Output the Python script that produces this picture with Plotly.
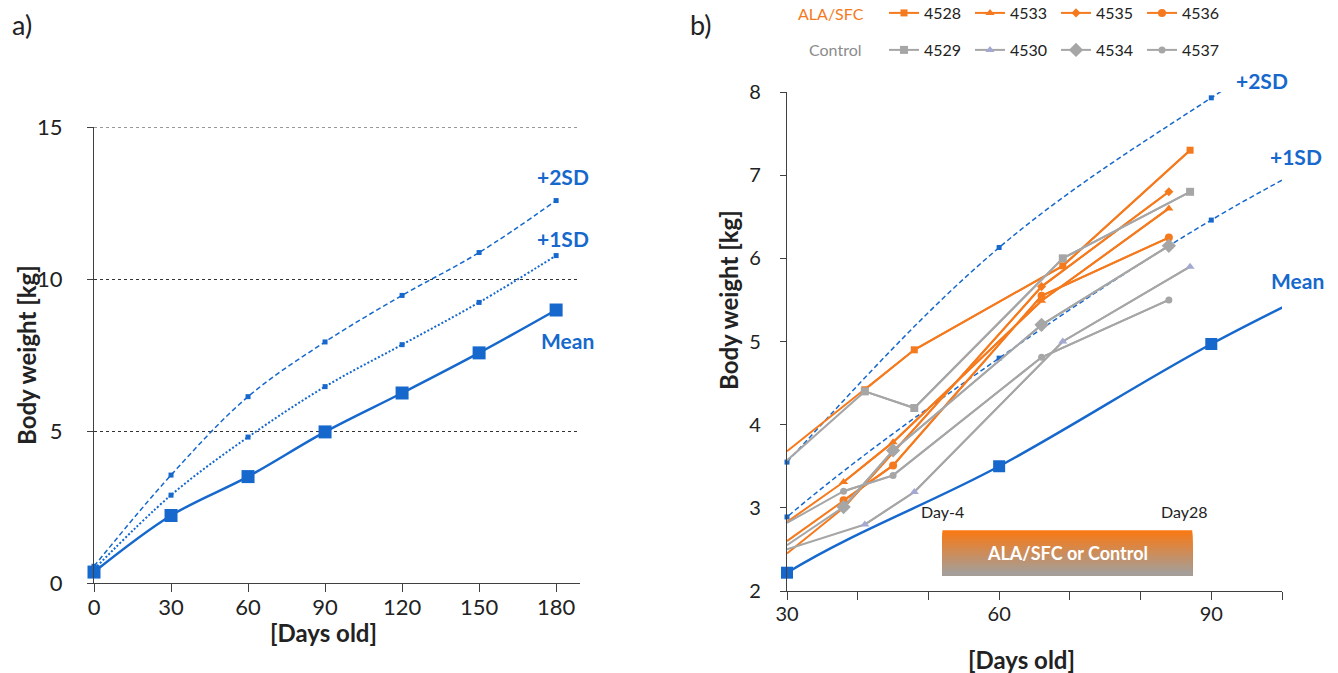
import plotly.graph_objects as go

W, H = 1338, 673
FONT = "Lato"
BLUE = "#1668CC"
ORANGE = "#F57A1E"
GRAY = "#A6A6A6"
LAV = "#A3A9D2"
AXIS = "#404040"
TXT = "#222222"

# ---- reference growth curves (days old -> kg) ----
ref_days = [0, 30, 60, 90, 120, 150, 180]
mean_kg = [0.36, 2.22, 3.50, 4.97, 6.25, 7.57, 8.98]
sd1_kg = [0.45, 2.89, 4.80, 6.46, 7.84, 9.23, 10.77]
sd2_kg = [0.55, 3.55, 6.13, 7.93, 9.46, 10.87, 12.58]

# ---- individual animals (panel b) ----
ala_ids = ["4528", "4533", "4535", "4536"]
ala_days = [[30, 41, 48, 69, 87], [30, 38, 45, 66, 84], [30, 38, 66, 84], [30, 38, 45, 66, 84]]
ala_kg = [[3.68, 4.42, 4.90, 5.91, 7.30], [2.83, 3.31, 3.79, 5.49, 6.60],
          [2.45, 3.00, 5.66, 6.80], [2.60, 3.09, 3.51, 5.55, 6.25]]
ctl_ids = ["4529", "4530", "4534", "4537"]
ctl_days = [[30, 41, 48, 69, 87], [30, 41, 48, 69, 87], [30, 38, 45, 66, 84], [30, 38, 45, 66, 84]]
ctl_kg = [[3.57, 4.40, 4.20, 6.00, 6.80], [2.50, 2.80, 3.19, 5.00, 5.90],
          [2.55, 3.01, 3.69, 5.20, 6.15], [2.82, 3.20, 3.39, 4.81, 5.50]]

# treatment window box (days old, kg)
treat_days = [52, 87.3]
treat_kg = [2.19, 2.73]
treat_label = "ALA/SFC or Control"

a_ticks = [0, 30, 60, 90, 120, 150, 180]
a_yticks = [0, 5, 10, 15]
b_ticks = [30, 60, 90]


def px(x):
    return x / W


def py(y):
    return 1 - y / H


DASH = "5px,3px"
DOT = "2px,2px"

fig = go.Figure()

# ---------------- panel a ----------------
fig.add_trace(go.Scatter(x=ref_days, y=sd2_kg, mode="lines+markers", line=dict(color=BLUE, width=1.5, dash=DASH, shape="spline"),
                         marker=dict(symbol="square", size=5, color=BLUE), showlegend=False, cliponaxis=False, xaxis="x", yaxis="y"))
fig.add_trace(go.Scatter(x=ref_days, y=sd1_kg, mode="lines+markers", line=dict(color=BLUE, width=2, dash=DOT, shape="spline"),
                         marker=dict(symbol="square", size=5, color=BLUE), showlegend=False, cliponaxis=False, xaxis="x", yaxis="y"))
fig.add_trace(go.Scatter(x=ref_days, y=mean_kg, mode="lines+markers", line=dict(color=BLUE, width=2.5, shape="spline"),
                         marker=dict(symbol="square", size=13, color=BLUE), showlegend=False, cliponaxis=False, xaxis="x", yaxis="y"))

# ---------------- panel b ----------------
bx_min, bx_max, by_min, by_max = 30, 100, 2, 8


def visible(xs, ys):
    pts = [(x, y) for x, y in zip(xs, ys) if bx_min <= x <= bx_max and by_min <= y <= by_max]
    return [p[0] for p in pts], [p[1] for p in pts]


for ys, dash, msize, lw in [(sd2_kg, DASH, 5, 1.5), (sd1_kg, DASH, 5, 1.5), (mean_kg, "solid", 12, 2.5)]:
    fig.add_trace(go.Scatter(x=ref_days, y=ys, mode="lines", line=dict(color=BLUE, width=lw, dash=dash, shape="spline"),
                             showlegend=False, xaxis="x2", yaxis="y2", hoverinfo="skip"))
    vx, vy = visible(ref_days, ys)
    fig.add_trace(go.Scatter(x=vx, y=vy, mode="markers", marker=dict(symbol="square", size=msize, color=BLUE),
                             showlegend=False, cliponaxis=False, xaxis="x2", yaxis="y2"))

ala_sym = [("square", 7), ("triangle-up", 8), ("diamond", 7), ("circle", 8)]
ctl_sym = [("square", 8, GRAY), ("triangle-up", 8, LAV), ("diamond", 11, GRAY), ("circle", 7, GRAY)]

for i, name in enumerate(ala_ids):
    sym, sz = ala_sym[i]
    fig.add_trace(go.Scatter(x=ala_days[i], y=ala_kg[i], mode="lines", line=dict(color=ORANGE, width=2),
                             showlegend=False, xaxis="x2", yaxis="y2", hoverinfo="skip"))
    fig.add_trace(go.Scatter(x=ala_days[i][1:], y=ala_kg[i][1:], mode="lines+markers", name=name,
                             line=dict(color=ORANGE, width=2), marker=dict(symbol=sym, size=sz, color=ORANGE),
                             legend="legend", xaxis="x2", yaxis="y2"))

for i, name in enumerate(ctl_ids):
    sym, sz, mc = ctl_sym[i]
    fig.add_trace(go.Scatter(x=ctl_days[i], y=ctl_kg[i], mode="lines", line=dict(color=GRAY, width=2),
                             showlegend=False, xaxis="x2", yaxis="y2", hoverinfo="skip"))
    fig.add_trace(go.Scatter(x=ctl_days[i][1:], y=ctl_kg[i][1:], mode="lines+markers", name=name,
                             line=dict(color=GRAY, width=2), marker=dict(symbol=sym, size=sz, color=mc),
                             legend="legend2", xaxis="x2", yaxis="y2"))

# gradient box (orange -> gray), overlapping strips to avoid seams
shapes = []
N = 40
top = (250, 120, 18)
bot = (160, 160, 160)
h = (treat_kg[1] - treat_kg[0]) / N
for k in range(N):
    t = (k + 0.5) / N
    c = tuple(int(round(top[j] * (1 - t) + bot[j] * t)) for j in range(3))
    shapes.append(dict(type="rect", xref="x2", yref="y2", x0=treat_days[0], x1=treat_days[1],
                       y0=treat_kg[0], y1=treat_kg[1] - k * h, fillcolor="rgb(%d,%d,%d)" % c,
                       line=dict(width=0), layer="above"))


def pann(text, x, y, size, color=TXT, xanchor="center", **kw):
    d = dict(text=text, x=px(x), y=py(y), xref="paper", yref="paper", showarrow=False,
             xanchor=xanchor, yanchor="middle", font=dict(family=FONT, size=size, color=color))
    d.update(kw)
    return d


annotations = [
    pann("a)", 10, 25, 27, xanchor="left"),
    pann("b)", 688, 25, 27, xanchor="left"),
    pann("<b>Body weight [kg]</b>", 26, 355, 24, textangle=-90),
    pann("<b>[Days old]</b>", 323, 632, 24),
    pann("<b>Body weight [kg]</b>", 728, 300, 24, textangle=-90),
    pann("<b>[Days old]</b>", 1021, 659, 24),
    pann("<b>+2SD</b>", 563, 177, 21, BLUE),
    pann("<b>+1SD</b>", 563, 238, 21, BLUE),
    pann("<b>Mean</b>", 567, 340, 21, BLUE),
    pann("<b>+2SD</b>", 1262, 80, 21, BLUE),
    pann("<b>+1SD</b>", 1296, 156, 21, BLUE),
    pann("<b>Mean</b>", 1297, 280, 21, BLUE),
    pann("ALA/SFC", 866, 13, 16, ORANGE, xanchor="right"),
    pann("Control", 864, 50, 16, "#8C8C8C", xanchor="right"),
    dict(text="Day-4", x=treat_days[0], y=treat_kg[1], xref="x2", yref="y2", xanchor="center", yanchor="bottom", yshift=7,
         showarrow=False, font=dict(family=FONT, size=16, color=TXT)),
    dict(text="Day28", x=treat_days[1], y=treat_kg[1], xref="x2", yref="y2", xanchor="center", yanchor="bottom", yshift=7,
         xshift=-8, showarrow=False, font=dict(family=FONT, size=16, color=TXT)),
    dict(text="<b>" + treat_label + "</b>", x=sum(treat_days) / 2, y=sum(treat_kg) / 2, xref="x2", yref="y2",
         xanchor="center", yanchor="middle", showarrow=False, font=dict(family=FONT, size=18, color="white")),
]

axis_common = dict(showline=True, linecolor=AXIS, linewidth=1.2, ticks="outside", tickcolor=AXIS, tickwidth=1.2,
                   zeroline=False, automargin=False)

fig.update_layout(
    template="none",
    width=W, height=H, autosize=False, margin=dict(l=0, r=0, t=0, b=0, pad=0, autoexpand=False),
    paper_bgcolor="white", plot_bgcolor="white",
    font=dict(family=FONT),
    xaxis=dict(domain=[px(94), px(580)], range=[0, 189.3], tickvals=a_ticks, ticklen=8, showgrid=False,
               anchor="y", ticklabelstandoff=-4, tickfont=dict(family=FONT, size=22, color=TXT), **axis_common),
    yaxis=dict(domain=[py(583), py(127)], range=[0, 15], tickvals=a_yticks, ticklen=6, showgrid=True,
               gridcolor="#333", griddash="dot", gridwidth=1, anchor="x", ticklabelstandoff=20,
               tickfont=dict(family=FONT, size=22, color=TXT), **axis_common),
    xaxis2=dict(domain=[px(787), px(1282)], range=[30, 100], tickvals=b_ticks, ticklen=8, showgrid=False,
                minor=dict(dtick=10, ticks="outside", ticklen=8, tickcolor=AXIS, showgrid=False),
                anchor="y2", ticklabelstandoff=-3, tickfont=dict(family=FONT, size=20, color=TXT), **axis_common),
    yaxis2=dict(domain=[py(591), py(92)], range=[2, 8], dtick=1, ticklen=6, showgrid=False,
                anchor="x2", ticklabelstandoff=15, tickfont=dict(family=FONT, size=20, color=TXT), **axis_common),
    legend=dict(x=px(884), y=py(13), xanchor="left", yanchor="middle", orientation="h", entrywidth=41, itemwidth=30,
                font=dict(family=FONT, size=16, color=TXT), bgcolor="rgba(0,0,0,0)", traceorder="normal"),
    legend2=dict(x=px(884), y=py(50), xanchor="left", yanchor="middle", orientation="h", entrywidth=41, itemwidth=30,
                 font=dict(family=FONT, size=16, color=TXT), bgcolor="rgba(0,0,0,0)", traceorder="normal"),
    shapes=shapes,
    annotations=annotations,
)
# 15 kg gridline (top edge) as a dotted reference line
fig.add_hline(y=a_yticks[-1], line=dict(color="#333", width=1, dash="dot"), xref="x", yref="y")

# remove the default page margin so the figure sits at the window's top-left corner
fig.write_html("out.html", config={"displayModeBar": False},
               post_script="document.body.style.margin='0px';")
